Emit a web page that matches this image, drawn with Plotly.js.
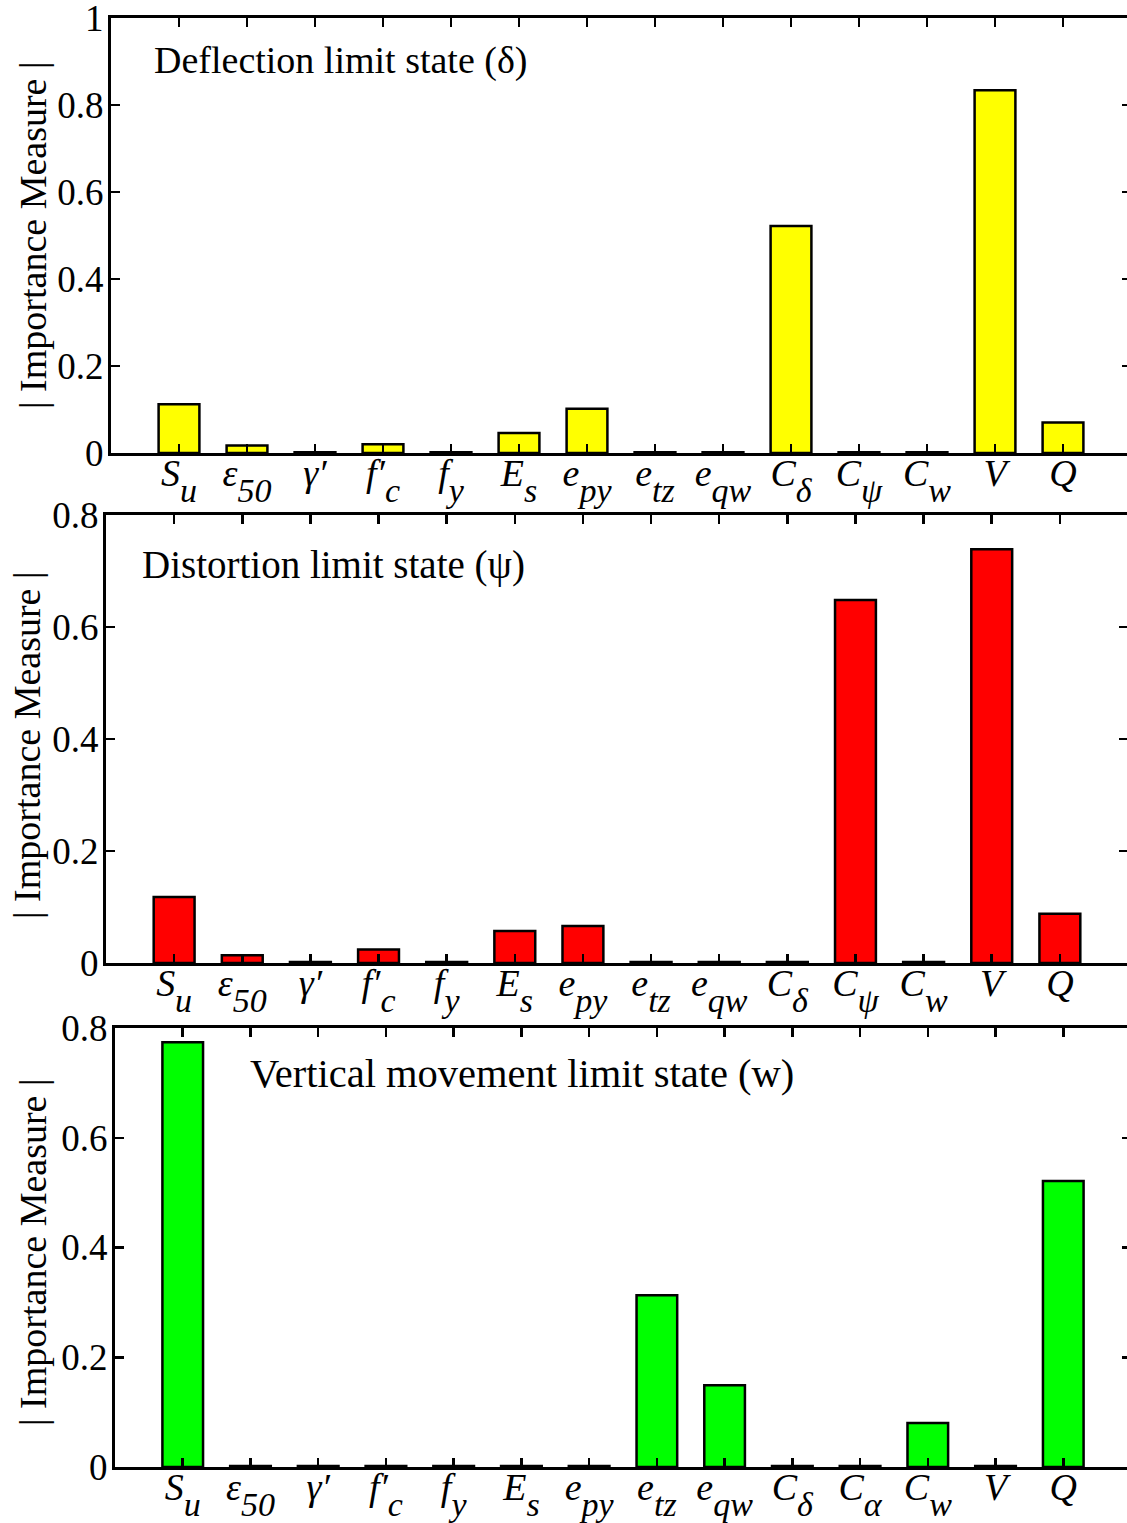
<!DOCTYPE html>
<html>
<head>
<meta charset="utf-8">
<script src="https://cdn.plot.ly/plotly-3.0.1.min.js"></script>
<style>
  html, body { margin: 0; padding: 0; background: #fff; overflow: hidden; }
  #chart { width: 1132px; height: 1523px; }
</style>
</head>
<body>
<div id="chart"></div>
<script>
// Italic symbol with a near full-size, well lowered subscript:
// the outer span enlarges the <sub> so its baseline drop is larger,
// the inner span brings the glyphs back to about 90% of the base size.
function sym(base, sub) {
  if (!sub) return '<i>' + base + '</i>';
  return '<i>' + base + '</i><span style="font-size:200%"><sub><span style="font-size:64%"><i>' + sub + '</i></span></sub></span>';
}

// Parameter labels
const labelsDeflection = [sym('S', 'u'), sym('ε', '50'), sym('γ′'), sym('f′', 'c'), sym('f', 'y'), sym('E', 's'), sym('e', 'py'), sym('e', 'tz'), sym('e', 'qw'), sym('C', 'δ'), sym('C', 'ψ'), sym('C', 'w'), sym('V'), sym('Q')];
const labelsDistortion = labelsDeflection.slice();
const labelsVertical = [sym('S', 'u'), sym('ε', '50'), sym('γ′'), sym('f′', 'c'), sym('f', 'y'), sym('E', 's'), sym('e', 'py'), sym('e', 'tz'), sym('e', 'qw'), sym('C', 'δ'), sym('C', 'α'), sym('C', 'w'), sym('V'), sym('Q')];

// |Importance measure| per limit state
const importanceDeflection = [0.112, 0.017, 0.002, 0.020, 0.002, 0.046, 0.102, 0.002, 0.002, 0.522, 0.002, 0.002, 0.834, 0.070];
const importanceDistortion = [0.118, 0.014, 0.002, 0.024, 0.002, 0.057, 0.066, 0.002, 0.002, 0.002, 0.648, 0.002, 0.739, 0.088];
const importanceVertical   = [0.774, 0.002, 0.002, 0.002, 0.002, 0.002, 0.002, 0.313, 0.149, 0.002, 0.002, 0.080, 0.002, 0.521];

const panelTitles = ['Deflection limit state (δ)', 'Distortion limit state (ψ)', 'Vertical movement limit state (w)'];
const yTitle = '| Importance Measure |';

const W = 1132, H = 1523;
const serif = 'Liberation Serif, Times New Roman, serif';

function bar(labels, values, color, xa, ya) {
  return {
    type: 'bar', x: labels, y: values, xaxis: xa, yaxis: ya,
    width: 0.6,
    marker: { color: color, line: { color: '#000', width: 2.5 } },
    hoverinfo: 'x+y'
  };
}

const traces = [
  bar(labelsDeflection, importanceDeflection, '#FFFF00', 'x', 'y'),
  bar(labelsDistortion, importanceDistortion, '#FF0000', 'x2', 'y2'),
  bar(labelsVertical, importanceVertical, '#00FF00', 'x3', 'y3')
];

function xAxis(domainPx, anchor) {
  return {
    domain: [domainPx[0] / W, domainPx[1] / W],
    anchor: anchor,
    type: 'category',
    range: [-1, 14],
    showline: true, linecolor: '#000', linewidth: 3,
    mirror: 'ticks',
    ticks: 'inside', ticklen: 9, tickwidth: 2.5, tickcolor: '#000',
    tickfont: { family: serif, size: 38, color: '#000' },
    tickangle: 0,
    ticklabelstandoff: -16,
    ticklabeloverflow: 'allow',
    showgrid: false, zeroline: false, fixedrange: true
  };
}

function yAxis(topPx, bottomPx, anchor, maxVal, tickvals, ticktext) {
  return {
    domain: [(H - bottomPx) / H, (H - topPx) / H],
    anchor: anchor,
    range: [0, maxVal],
    tickvals: tickvals, ticktext: ticktext,
    showline: true, linecolor: '#000', linewidth: 3,
    mirror: 'ticks',
    ticks: 'inside', ticklen: 9, tickwidth: 2.5, tickcolor: '#000',
    tickfont: { family: serif, size: 37, color: '#000' },
    ticklabelstandoff: -3,
    ticklabeloverflow: 'allow',
    showgrid: false, zeroline: false, fixedrange: true
  };
}

function panelTitle(text, xPx, yPx, size) {
  return { text: text, xref: 'paper', yref: 'paper', x: xPx / W, y: (H - yPx) / H,
           xanchor: 'left', yanchor: 'middle', showarrow: false,
           font: { family: serif, size: size, color: '#000' } };
}

function sideTitle(xPx, yPx) {
  return { text: yTitle, xref: 'paper', yref: 'paper', x: xPx / W, y: (H - yPx) / H,
           xanchor: 'center', yanchor: 'middle', textangle: -90, showarrow: false,
           font: { family: serif, size: 38, color: '#000' } };
}

const layout = {
  width: W, height: H,
  margin: { l: 0, r: 0, t: 0, b: 0 },
  paper_bgcolor: '#fff', plot_bgcolor: '#fff',
  showlegend: false,
  xaxis:  xAxis([111, 1131], 'y'),
  yaxis:  yAxis(18, 453, 'x', 1, [0, 0.2, 0.4, 0.6, 0.8, 1], ['0', '0.2', '0.4', '0.6', '0.8', '1']),
  xaxis2: xAxis([106, 1128], 'y2'),
  yaxis2: yAxis(515, 963, 'x2', 0.8, [0, 0.2, 0.4, 0.6, 0.8], ['0', '0.2', '0.4', '0.6', '0.8']),
  xaxis3: xAxis([115, 1131], 'y3'),
  yaxis3: yAxis(1028, 1467, 'x3', 0.8, [0, 0.2, 0.4, 0.6, 0.8], ['0', '0.2', '0.4', '0.6', '0.8']),
  annotations: [
    panelTitle(panelTitles[0], 152, 60, 38),
    panelTitle(panelTitles[1], 140, 565, 39),
    panelTitle(panelTitles[2], 248, 1073, 40.5),
    sideTitle(33, 235),
    sideTitle(27, 745),
    sideTitle(33, 1252)
  ]
};

Plotly.newPlot('chart', traces, layout, { staticPlot: true, displayModeBar: false });
</script>
</body>
</html>
